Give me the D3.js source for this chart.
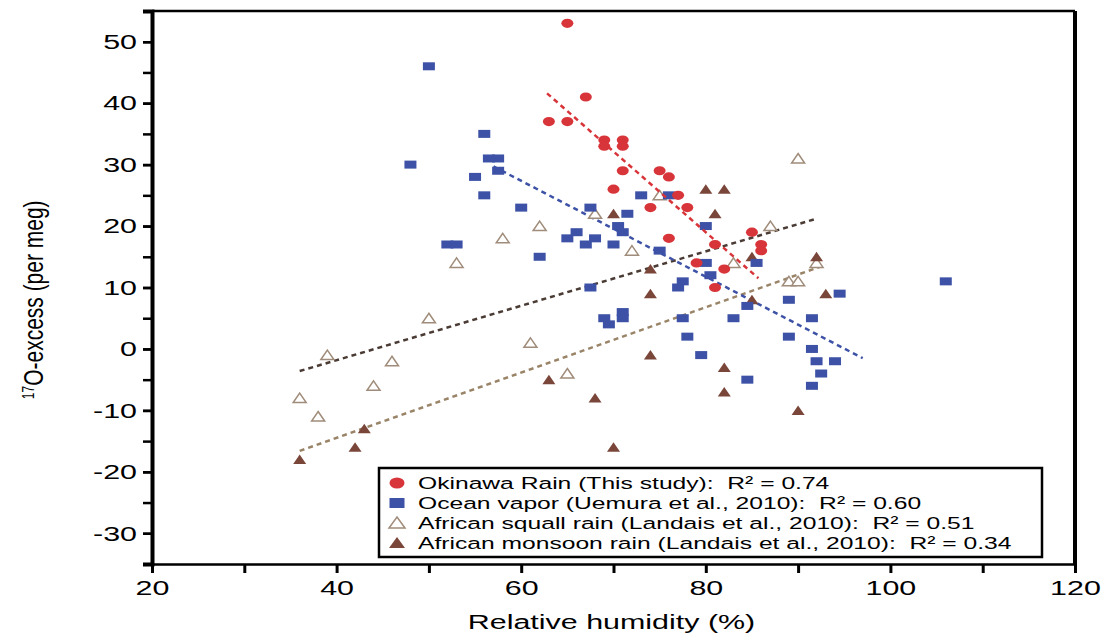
<!DOCTYPE html>
<html>
<head>
<meta charset="utf-8">
<script src="https://cdn.jsdelivr.net/npm/d3@7"></script>
<style>
  body { margin: 0; background: #fff; }
  text { font-family: "Liberation Sans", Arial, sans-serif; }
  .wide-c { transform-box: fill-box; transform-origin: 50% 50%; transform: scaleX(1.45); }
  .wide-r { transform-box: fill-box; transform-origin: 100% 50%; transform: scaleX(1.45); }
  .wide-l { transform-box: fill-box; transform-origin: 0% 50%; transform: scaleX(1.45); }
  .tall-c { transform-box: fill-box; transform-origin: 50% 50%; transform: scaleY(1.3); }
</style>
</head>
<body>
<div id="chart"></div>
<script>
// data: [relative humidity %, 17O-excess per meg]
var okinawa = [[65,53],[67,41],[63,37],[65,37],[69,34],[71,34],[69,33],[71,33],[71,29],[75,29],[76,28],
  [70,26],[77,25],[74,23],[78,23],[76,18],[85,19],[86,17],[86,16],[81,17],[79,14],[82,13],[81,10]];
var oceanVapor = [[50,46],[56,35],[56.5,31],[57.5,31],[48,30],[57.5,29],[55,28],[56,25],[60,23],[52,17],[53,17],
  [62,15],[73,25],[76,25],[67.5,23],[71.5,22],[70.5,20],[71,19],[66,19],[65,18],[68,18],[67,17],[70,17],[75,16],
  [80,20],[80,14],[85.5,14],[80.5,12],[77.5,11],[77,10],[67.5,10],[106,11],[94.5,9],[89,8],[84.5,7],[69,5],[71,5],
  [69.5,4],[71,6],[77.5,5],[83,5],[91.5,5],[78,2],[89,2],[91.5,0],[92,-2],[94,-2],[92.5,-4],[79.5,-1],[84.5,-5],[91.5,-6]];
var squallRain = [[58,18],[53,14],[62,20],[50,5],[61,1],[39,-1],[46,-2],[44,-6],[36,-8],[38,-11],[68,22],[75,25],
  [72,16],[90,31],[87,20],[83,14],[89,11],[90,11],[92,14],[65,-4]];
var monsoonRain = [[36,-18],[43,-13],[42,-16],[80,26],[82,26],[81,22],[70,22],[74,13],[85,15],[92,15],[74,9],
  [93,9],[85,8],[74,-1],[82,-3],[63,-5],[68,-8],[82,-7],[90,-10],[70,-16]];

// fitted lines (end points)
var okinawaFit = [[62.8,41.6],[85.7,11.5]];
var oceanFit = [[57,29.7],[97,-1.5]];
var squallFit = [[36,-3.6],[92,21.2]];
var monsoonFit = [[36,-16.6],[93,13.7]];

var legendLabels = [
  "Okinawa Rain (This study):  R\u00b2 = 0.74",
  "Ocean vapor (Uemura et al., 2010):  R\u00b2 = 0.60",
  "African squall rain (Landais et al., 2010):  R\u00b2 = 0.51",
  "African monsoon rain (Landais et al., 2010):  R\u00b2 = 0.34"
];
var xTicks = [20, 30, 40, 50, 60, 70, 80, 90, 100, 110, 120];
var yTicks = [50, 40, 30, 20, 10, 0, -10, -20, -30];

var w = 1105, h = 637;
var mLeft = 152, mRight = 1075, mTop = 11, mBottom = 564;

var svg = d3.select("#chart").append("svg")
  .attr("width", w).attr("height", h);

var x = d3.scaleLinear().domain([20, 120]).range([mLeft, mRight]);
var y = d3.scaleLinear().domain([-35, 55]).range([mBottom, mTop]);

var red = "#d8353a", blue = "#3d52a6", tan = "#a08c7a", brown = "#7a463a";

// frame: top and right lines
svg.append("line").attr("x1", mLeft).attr("x2", mRight).attr("y1", mTop).attr("y2", mTop)
  .attr("stroke", "#000").attr("stroke-width", 2.5);
svg.append("line").attr("x1", mRight).attr("x2", mRight).attr("y1", mTop).attr("y2", mBottom)
  .attr("stroke", "#000").attr("stroke-width", 4);

// x axis
var xAxis = d3.axisBottom(x).tickValues(xTicks).tickSize(9).tickPadding(7)
  .tickFormat(function(d) { return d % 20 === 0 ? d : ""; });
var gx = svg.append("g").attr("transform", "translate(0," + mBottom + ")").call(xAxis);
gx.select(".domain").attr("stroke-width", 2.5);
gx.selectAll(".tick line").attr("stroke-width", 3);
gx.selectAll(".tick text").attr("font-size", 21).attr("class", "wide-c")
  .attr("font-family", "Liberation Sans, Arial, sans-serif");

// y axis with minor ticks
var yMinor = d3.range(-35, 56, 5);
svg.append("g").attr("transform", "translate(" + mLeft + ",0)")
  .call(d3.axisLeft(y).tickValues(yMinor).tickSize(9).tickFormat(""))
  .call(function(g) { g.select(".domain").remove(); g.selectAll("line").attr("stroke-width", 2.5); });
var gy = svg.append("g").attr("transform", "translate(" + mLeft + ",0)")
  .call(d3.axisLeft(y).tickValues(yTicks).tickSize(9).tickPadding(6)
    .tickFormat(function(d) { return String(d); }));
gy.select(".domain").attr("stroke-width", 4);
gy.selectAll(".tick line").attr("stroke-width", 2.5);
gy.selectAll(".tick text").attr("font-size", 21).attr("class", "wide-r")
  .attr("font-family", "Liberation Sans, Arial, sans-serif");

// axis titles
svg.append("text").attr("x", (mLeft + mRight) / 2 - 2).attr("y", 629)
  .attr("text-anchor", "middle").attr("font-size", 21).attr("class", "wide-c")
  .text("Relative humidity (%)");
var yt = svg.append("g")
  .attr("transform", "translate(41," + y(8) + ") rotate(-90)")
  .append("text").attr("class", "tall-c")
  .attr("text-anchor", "middle").attr("font-size", 21)
  .style("font-family", "'Liberation Sans Narrow', 'Arial Narrow', sans-serif");
yt.append("tspan").attr("font-size", 12).attr("dy", -7).text("17");
yt.append("tspan").attr("dy", 7).text("O-excess (per meg)");

// fitted dashed lines
var line = d3.line().x(function(d) { return x(d[0]); }).y(function(d) { return y(d[1]); });
function drawFit(pts, color) {
  svg.append("path").datum(pts).attr("d", line)
    .attr("fill", "none").attr("stroke", color).attr("stroke-width", 2.5)
    .attr("stroke-dasharray", "5,4");
}
drawFit(monsoonFit, "#9a8468");
drawFit(squallFit, "#4a3b34");
drawFit(oceanFit, blue);

// markers
var tri = "M0,-5 L6.5,4.5 L-6.5,4.5 Z";
svg.append("g").selectAll("path").data(squallRain).enter().append("path")
  .attr("d", tri).attr("fill", "#fff").attr("stroke", tan).attr("stroke-width", 1.5)
  .attr("transform", function(d) { return "translate(" + x(d[0]) + "," + y(d[1]) + ")"; });
svg.append("g").selectAll("path").data(monsoonRain).enter().append("path")
  .attr("d", tri).attr("fill", brown)
  .attr("transform", function(d) { return "translate(" + x(d[0]) + "," + y(d[1]) + ")"; });
svg.append("g").selectAll("rect").data(oceanVapor).enter().append("rect")
  .attr("x", function(d) { return x(d[0]) - 6; }).attr("y", function(d) { return y(d[1]) - 4; })
  .attr("width", 12).attr("height", 8).attr("fill", blue);
drawFit(okinawaFit, red);
svg.append("g").selectAll("ellipse").data(okinawa).enter().append("ellipse")
  .attr("cx", function(d) { return x(d[0]); }).attr("cy", function(d) { return y(d[1]); })
  .attr("rx", 6).attr("ry", 4.6).attr("fill", red);

// legend
var lg = svg.append("g");
lg.append("rect").attr("x", 379).attr("y", 468).attr("width", 663).attr("height", 89)
  .attr("fill", "#fff").attr("stroke", "#000").attr("stroke-width", 2.5);
var rows = lg.selectAll("g.row").data(legendLabels).enter().append("g")
  .attr("transform", function(d, i) { return "translate(397," + (483 + i * 20) + ")"; });
rows.append("text").attr("x", 21).attr("y", 6).attr("font-size", 17)
  .attr("class", "wide-l").style("white-space", "pre")
  .text(function(d) { return d; });
rows.each(function(d, i) {
  var g = d3.select(this);
  if (i === 0) g.append("ellipse").attr("rx", 7.5).attr("ry", 5.5).attr("fill", red);
  if (i === 1) g.append("rect").attr("x", -7.5).attr("y", -5).attr("width", 15).attr("height", 10).attr("fill", blue);
  if (i === 2) g.append("path").attr("d", "M0,-6 L8,5 L-8,5 Z").attr("fill", "#fff").attr("stroke", tan).attr("stroke-width", 1.5);
  if (i === 3) g.append("path").attr("d", "M0,-6 L8,5 L-8,5 Z").attr("fill", brown);
});
</script>
</body>
</html>
